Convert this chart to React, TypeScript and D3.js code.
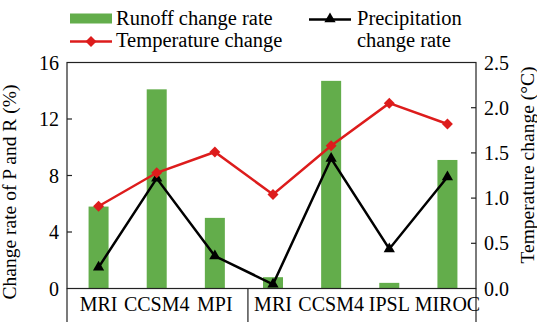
import React, { useEffect, useRef } from 'react';
import * as d3 from 'd3';

const models = ['MRI', 'CCSM4', 'MPI', 'MRI', 'CCSM4', 'IPSL', 'MIROC'];
const runoff = [5.8, 14.1, 5.0, 0.8, 14.7, 0.4, 9.1];
const precipitation = [1.5, 7.8, 2.3, 0.3, 9.2, 2.8, 7.9];
const temperature = [0.91, 1.28, 1.51, 1.04, 1.58, 2.05, 1.82];
const leftTicks = [0, 4, 8, 12, 16];
const rightTicks = [0, 0.5, 1.0, 1.5, 2.0, 2.5];

const W = 537;
const H = 322;
const FONT = '"Liberation Serif", "Times New Roman", serif';
const GREEN = '#63ad4b';
const RED = '#dd1c1c';

const App = () => {
  const ref = useRef<SVGSVGElement>(null);

  useEffect(() => {
    const svg = d3.select(ref.current);
    svg.selectAll('*').remove();

    const left = 67;
    const right = 476;
    const top = 62.5;
    const bottom = 288.5;

    const x = d3.scaleBand<number>()
      .domain(d3.range(models.length))
      .range([69.5, 476.5]);
    const yL = d3.scaleLinear().domain([0, 16]).range([bottom, top]);
    const yR = d3.scaleLinear().domain([0, 2.5]).range([bottom, top]);
    const cx = (i: number) => (x(i) as number) + x.bandwidth() / 2;

    // bars
    const barW = 20;
    svg.append('g')
      .selectAll('rect')
      .data(runoff)
      .enter()
      .append('rect')
      .attr('x', (d, i) => cx(i) - barW / 2)
      .attr('y', d => yL(d))
      .attr('width', barW)
      .attr('height', d => yL(0) - yL(d))
      .attr('fill', GREEN);

    // frame
    svg.append('rect')
      .attr('x', left).attr('y', top)
      .attr('width', right - left).attr('height', bottom - top)
      .attr('fill', 'none').attr('stroke', '#222').attr('stroke-width', 1.2);

    // lines extending below the axis (group separators)
    const sep = (x(3) as number) + 4;
    [left, sep, right].forEach(xx => {
      svg.append('line')
        .attr('x1', xx).attr('x2', xx)
        .attr('y1', bottom).attr('y2', H)
        .attr('stroke', '#222').attr('stroke-width', 1.2);
    });

    // ticks (inward)
    svg.append('g').selectAll('line')
      .data(leftTicks.slice(1, -1))
      .enter().append('line')
      .attr('x1', left).attr('x2', left + 5)
      .attr('y1', d => yL(d)).attr('y2', d => yL(d))
      .attr('stroke', '#222').attr('stroke-width', 1.2);
    svg.append('g').selectAll('line')
      .data(rightTicks.slice(1, -1))
      .enter().append('line')
      .attr('x1', right - 5).attr('x2', right)
      .attr('y1', d => yR(d)).attr('y2', d => yR(d))
      .attr('stroke', '#222').attr('stroke-width', 1.2);

    // tick labels
    svg.append('g').selectAll('text')
      .data(leftTicks)
      .enter().append('text')
      .attr('x', 59)
      .attr('y', d => yL(d))
      .attr('dy', '0.35em')
      .attr('text-anchor', 'end')
      .style('font-family', FONT).style('font-size', '20px')
      .text(d => d);
    svg.append('g').selectAll('text')
      .data(rightTicks)
      .enter().append('text')
      .attr('x', 484)
      .attr('y', d => yR(d))
      .attr('dy', '0.35em')
      .style('font-family', FONT).style('font-size', '20px')
      .text(d => d.toFixed(1));

    // category labels
    svg.append('g').selectAll('text')
      .data(models)
      .enter().append('text')
      .attr('x', (d, i) => cx(i))
      .attr('y', 311)
      .attr('text-anchor', 'middle')
      .style('font-family', FONT).style('font-size', '20px')
      .text(d => d);

    // axis titles
    svg.append('text')
      .attr('transform', `translate(16,192) rotate(-90)`)
      .attr('text-anchor', 'middle')
      .style('font-family', FONT).style('font-size', '19.5px')
      .text('Change rate of P and R (%)');
    svg.append('text')
      .attr('transform', `translate(534,165) rotate(-90)`)
      .attr('text-anchor', 'middle')
      .style('font-family', FONT).style('font-size', '19.5px')
      .text('Temperature change (\u00B0C)');

    // precipitation line
    const lineP = d3.line<number>().x((d, i) => cx(i)).y(d => yL(d));
    svg.append('path')
      .datum(precipitation)
      .attr('d', lineP)
      .attr('fill', 'none').attr('stroke', '#000').attr('stroke-width', 2.5);
    const tri = d3.symbol().type(d3.symbolTriangle).size(55);
    svg.append('g').selectAll('path')
      .data(precipitation)
      .enter().append('path')
      .attr('d', tri)
      .attr('transform', (d, i) => `translate(${cx(i)},${yL(d)})`)
      .attr('fill', '#000');

    // temperature line
    const lineT = d3.line<number>().x((d, i) => cx(i)).y(d => yR(d));
    svg.append('path')
      .datum(temperature)
      .attr('d', lineT)
      .attr('fill', 'none').attr('stroke', RED).attr('stroke-width', 2.5);
    const dia = d3.symbol().type(d3.symbolSquare).size(60);
    svg.append('g').selectAll('path')
      .data(temperature)
      .enter().append('path')
      .attr('d', dia)
      .attr('transform', (d, i) => `translate(${cx(i)},${yR(d)}) rotate(45)`)
      .attr('fill', RED);

    // legend
    const lg = svg.append('g').style('font-family', FONT).style('font-size', '20.5px');
    lg.append('rect').attr('x', 70).attr('y', 13.5).attr('width', 42).attr('height', 10).attr('fill', GREEN);
    lg.append('text').attr('x', 116).attr('y', 25).text('Runoff change rate');
    lg.append('line').attr('x1', 70).attr('x2', 112).attr('y1', 41.5).attr('y2', 41.5)
      .attr('stroke', RED).attr('stroke-width', 2.5);
    lg.append('path').attr('d', dia).attr('transform', 'translate(91,41.5) rotate(45)').attr('fill', RED);
    lg.append('text').attr('x', 116).attr('y', 47).text('Temperature change');
    lg.append('line').attr('x1', 309).attr('x2', 351).attr('y1', 19.5).attr('y2', 19.5)
      .attr('stroke', '#000').attr('stroke-width', 2.5);
    lg.append('path').attr('d', tri).attr('transform', 'translate(330,19)').attr('fill', '#000');
    lg.append('text').attr('x', 357).attr('y', 25).text('Precipitation');
    lg.append('text').attr('x', 357).attr('y', 47).text('change rate');
  }, []);

  return (
    <svg
      ref={ref}
      width={W}
      height={H}
      style={{ position: 'absolute', left: 0, top: 0, background: '#fff' }}
    />
  );
};

export default App;
